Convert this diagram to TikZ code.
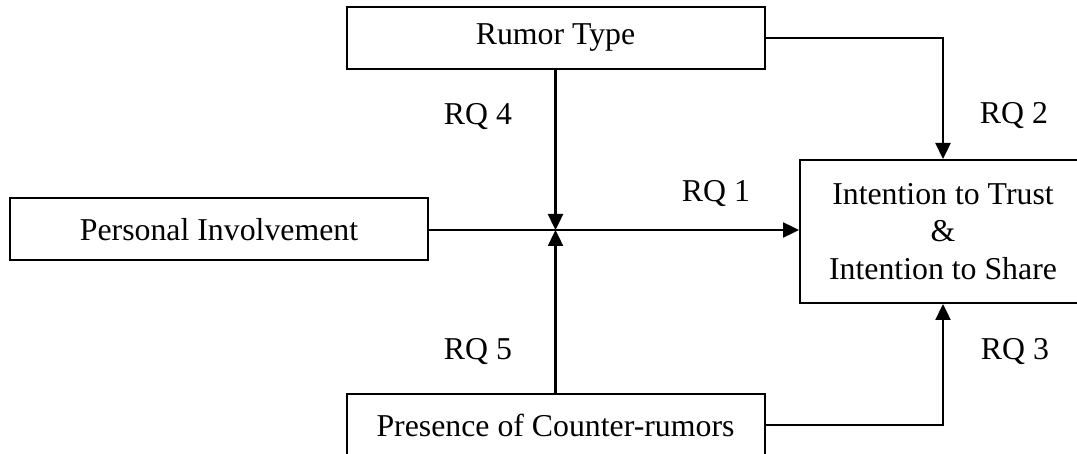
\documentclass[tikz,border=0pt]{standalone}
\usepackage{fontspec}
\setmainfont{Liberation Serif}
\usetikzlibrary{arrows.meta}
\begin{document}
\begin{tikzpicture}[x=1pt,y=-1pt,
  box/.style={draw=black,line width=2pt,minimum width=418pt,minimum height=62pt,inner sep=0pt,font=\fontsize{31.8}{37.5}\selectfont},
  conn/.style={line width=2.4pt,-{Triangle[length=16pt,width=15pt]}},
  lab/.style={anchor=base,inner sep=0pt,font=\fontsize{31.8}{37.5}\selectfont}]
\useasboundingbox (0,0) rectangle (1077,454);
\node[box] (rumor) at (555.5,38) {Rumor Type};
\node[box] (personal) at (219,229.5) {Personal Involvement};
\node[box,minimum width=286pt,minimum height=143pt,align=center] (intention) at (943,231.5)
  {Intention to Trust\\\&\\Intention to Share};
\node[box] (presence) at (555.5,425) {Presence of Counter-rumors};
\coordinate (j) at (555.5,230);
\draw[conn] (personal.east |- j) -- (j -| intention.west);
\draw[conn] (rumor.south) -- (j);
\draw[conn] (presence.north) -- (j);
\draw[conn] (rumor.east) -| (intention.north);
\draw[conn] (presence.east) -| (intention.south);
\node[lab] (rq1) at (716,202) {RQ 1};
\node[lab] (rq2) at (1014,124) {RQ 2};
\node[lab] (rq3) at (1015,360) {RQ 3};
\node[lab] (rq4) at (478,125) {RQ 4};
\node[lab] (rq5) at (478,360) {RQ 5};
\end{tikzpicture}
\end{document}
